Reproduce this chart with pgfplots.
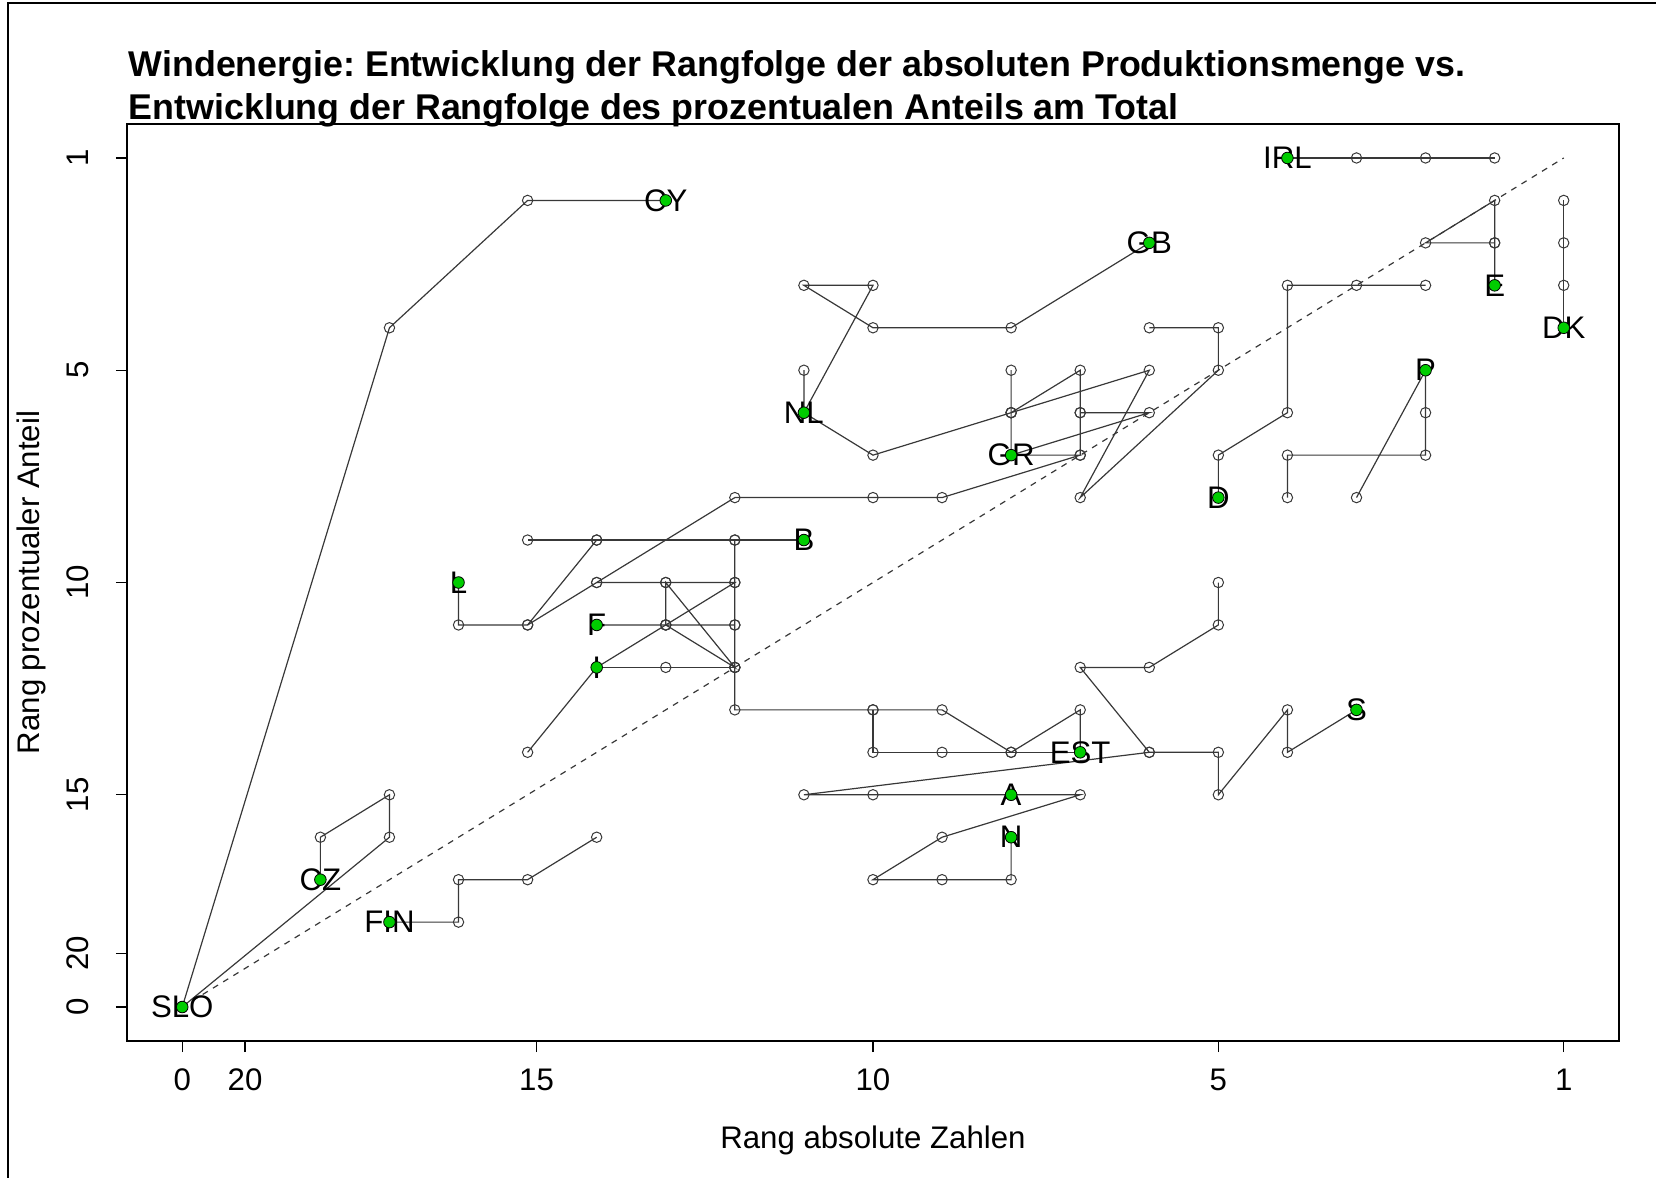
\documentclass[border=0pt]{standalone}
\usepackage{fontspec}
\setmainfont{Liberation Sans}
\usepackage{pgfplots}
\pgfplotsset{compat=1.18}
\definecolor{rgreen}{RGB}{0,205,0}
\definecolor{lc}{gray}{0.22}
\newcommand{\base}{\fontsize{15.6pt}{18pt}\selectfont}
\frenchspacing
\begin{document}
\begin{tikzpicture}
\useasboundingbox (0,0) rectangle (828pt,589pt);
\draw[line width=1pt] (4.2pt,0) -- (4.2pt,587.4pt) -- (828pt,587.4pt);
\node[anchor=base west, inner sep=0pt, font=\fontsize{17.9pt}{21pt}\selectfont\bfseries] at (64.2pt,550.5pt) {Windenergie: Entwicklung der Rangfolge der absoluten Produktionsmenge vs.};
\node[anchor=base west, inner sep=0pt, font=\fontsize{17.9pt}{21pt}\selectfont\bfseries] at (64.2pt,529.3pt) {Entwicklung der Rangfolge des prozentualen Anteils am Total};
\begin{axis}[
  at={(63.5pt,68.5pt)}, anchor=south west,
  scale only axis, width=746pt, height=458.5pt,
  xmin=-0.8, xmax=20.8, ymin=-0.8, ymax=20.8,
  x dir=reverse, y dir=reverse,
  axis line style={line width=0.7pt, black},
  xtick={0,5,10,14.87,19.09,20}, xticklabels={1,5,10,15,20,0},
  ytick={0,5,10,15,18.73,20}, yticklabels={1,5,10,15,20,0},
  tick align=outside, major tick length=5.5pt,
  tick style={line width=0.6pt, black},
  xtick pos=bottom, ytick pos=left,
  /pgf/number format/assume math mode=true,
  ticklabel style={font=\base, inner sep=0pt},
  xticklabel style={anchor=base, yshift=-19.4pt},
  yticklabel style={xshift=-13.6pt, rotate=90, anchor=base},
  xlabel={Rang absolute Zahlen}, ylabel={Rang prozentualer Anteil},
  every axis x label/.style={at={(axis description cs:0.5,0)}, anchor=base, yshift=-53.8pt, font=\base, inner sep=0pt},
  every axis y label/.style={at={(axis description cs:0,0.5)}, xshift=-43.7pt, rotate=90, anchor=base, font=\base, inner sep=0pt},
  clip=false,
  tr/.style={lc, line width=0.6pt, mark=o, mark size=2.6pt, mark options={lc, line width=0.5pt, solid}},
]
\addplot[lc, line width=0.6pt, dash pattern=on 3pt off 3pt] coordinates {(20,20) (0,0)};
\addplot[tr] coordinates {(1,0) (2,0) (3,0) (4,0)};
\addplot[tr] coordinates {(0,1) (0,2) (0,3) (0,4)};
\addplot[tr] coordinates {(1,2) (1,1) (2,2) (1,2) (1,3)};
\addplot[tr] coordinates {(20,20) (17,4) (15,1) (13,1)};
\addplot[tr] coordinates {(11,6) (10,3) (11,3) (10,4) (8,4) (6,2)};
\addplot[tr] coordinates {(11,5) (11,6) (10,7) (8,6) (7,5) (7,6) (7,7)};
\addplot[tr] coordinates {(8,5) (8,6) (8,7) (7,7) (9,8) (10,8) (12,8) (14,10) (15,11) (16,11) (16,10)};
\addplot[tr] coordinates {(6,4) (5,4) (5,5) (7,8) (6,5) (8,6)};
\addplot[tr] coordinates {(7,6) (6,6) (8,7)};
\addplot[tr] coordinates {(2,3) (3,3) (4,3) (4,6) (5,7) (5,8)};
\addplot[tr] coordinates {(4,8) (4,7) (2,7) (2,6) (2,5) (3,8)};
\addplot[tr] coordinates {(11,9) (12,9) (14,9) (15,9)};
\addplot[tr] coordinates {(14,9) (15,11)};
\addplot[tr] coordinates {(12,9) (12,10) (12,11) (12,12) (12,13) (10,13) (9,13) (8,14) (7,13) (7,14)};
\addplot[tr] coordinates {(14,10) (13,10) (12,10) (13,11) (14,12) (15,14)};
\addplot[tr] coordinates {(12,11) (13,11) (13,10) (12,12) (13,11) (14,11)};
\addplot[tr] coordinates {(12,12) (13,12) (14,12)};
\addplot[tr] coordinates {(10,13) (10,14) (9,14) (8,14) (7,14)};
\addplot[tr] coordinates {(5,10) (5,11) (6,12) (7,12) (6,14) (5,14) (5,15) (4,13) (4,14) (3,13)};
\addplot[tr] coordinates {(6,14) (11,15) (10,15) (8,15) (7,15) (9,16) (10,17) (9,17) (8,17) (8,16)};
\addplot[tr] coordinates {(14,16) (15,17) (16,17) (16,18) (17,18)};
\addplot[tr] coordinates {(20,20) (17,16) (17,15) (18,16) (18,17)};
\addplot[draw=none, mark=none, nodes near coords, point meta=explicit symbolic,
  nodes near coords style={anchor=center, font=\base, inner sep=0pt, black}]
  table[meta=lab] {
x y lab
4 0 IRL
13 1 CY
6 2 GB
1 3 E
0 4 DK
2 5 P
11 6 NL
8 7 GR
5 8 D
11 9 B
16 10 L
14 11 F
14 12 I
3 13 S
7 14 EST
8 15 A
8 16 N
18 17 CZ
17 18 FIN
20 20 SLO
};
\addplot[only marks, mark=*, mark size=2.9pt, mark options={fill=rgreen, draw=none}] table {
x y
4 0
13 1
6 2
1 3
0 4
2 5
11 6
8 7
5 8
11 9
16 10
14 11
14 12
3 13
7 14
8 15
8 16
18 17
17 18
20 20
};
\end{axis}
\end{tikzpicture}
\end{document}
